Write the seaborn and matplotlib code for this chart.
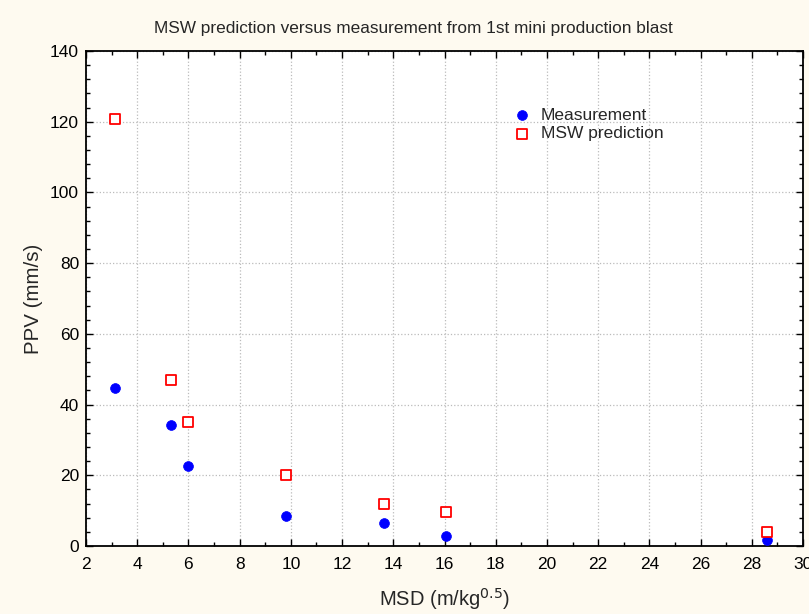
import numpy as np
import pandas as pd
import matplotlib
matplotlib.use('Agg')
import matplotlib.pyplot as plt
import seaborn as sns
from matplotlib.ticker import MultipleLocator

# datos
msd = [3.13, 5.33, 5.97, 9.82, 13.63, 16.06, 28.6]
measured = [44.6, 34.1, 22.7, 8.4, 6.6, 2.8, 1.8]
msw_pred = [120.8, 46.9, 35.0, 20.0, 12.0, 9.5, 4.0]

df = pd.DataFrame({'msd': msd, 'meas': measured, 'pred': msw_pred})

sns.set_style('ticks')
plt.rcParams['font.family'] = ['Liberation Sans', 'DejaVu Sans']

fig = plt.figure(figsize=(8.09, 6.14), dpi=100, facecolor='#FEFAF0')
ax = fig.add_axes([0.1063, 0.1107, 0.8863, 0.8063])
ax.set_facecolor('white')

sns.scatterplot(data=df, x='msd', y='meas', ax=ax, color='blue', marker='o',
                s=50, edgecolor='blue', linewidth=0.5, label='Measurement', zorder=3)
sns.scatterplot(data=df, x='msd', y='pred', ax=ax, marker='s', s=48,
                facecolor='white', edgecolor='red', linewidth=1.3,
                label='MSW prediction', zorder=4)

ax.set_xlim(2, 30)
ax.set_ylim(0, 140)
ax.xaxis.set_major_locator(MultipleLocator(2))
ax.xaxis.set_minor_locator(MultipleLocator(1))
ax.yaxis.set_major_locator(MultipleLocator(20))
ax.yaxis.set_minor_locator(MultipleLocator(4))
ax.tick_params(which='both', direction='in', top=True, right=True,
               labelsize=12.5, colors='black')
ax.tick_params(axis='x', pad=8)
ax.tick_params(axis='y', pad=5)
ax.tick_params(which='major', length=5, width=1)
ax.tick_params(which='minor', length=3, width=1)
ax.grid(True, which='major', linestyle=':', color='#BBBBBB', linewidth=0.9)
for s in ax.spines.values():
    s.set_color('black')
    s.set_linewidth(1.3)

ax.set_xlabel('MSD (m/kg$^{0.5}$)', fontsize=14.5, labelpad=10)
ax.set_ylabel('PPV (mm/s)', fontsize=14.8, labelpad=5)
fig.suptitle('MSW prediction versus measurement from 1st mini production blast',
             fontsize=12.4, x=0.511, y=0.965)

ax.legend(loc='upper left', bbox_to_anchor=(0.576, 0.91), frameon=False,
          fontsize=12.5, handletextpad=0.5, labelspacing=0.2, borderpad=0.2,
          handlelength=1.2)

plt.savefig('out.png', dpi=100, facecolor=fig.get_facecolor())
